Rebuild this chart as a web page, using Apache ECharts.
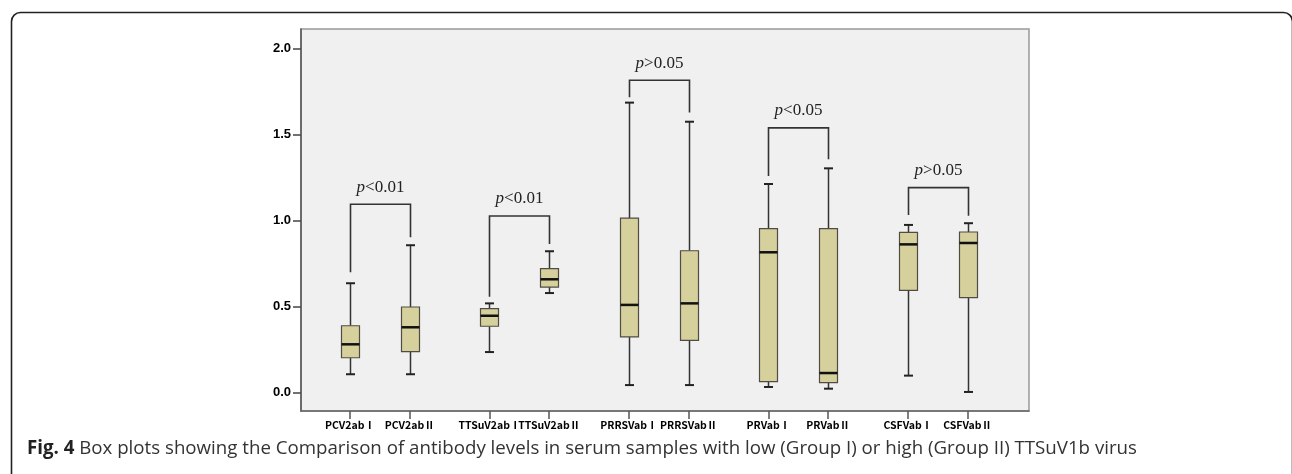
<!DOCTYPE html>
<html>
<head>
<meta charset="utf-8">
<script src="https://cdn.jsdelivr.net/npm/echarts@6/dist/echarts.min.js"></script>
<style>
html,body{margin:0;padding:0;background:#fff;}
#chart{width:1292px;height:474px;}
</style>
</head>
<body>
<div id="chart"></div>
<script>
// ---- Data ----
const categories = ['PCV2abⅠ','PCV2abⅡ','TTSuV2abⅠ','TTSuV2abⅡ','PRRSVabⅠ','PRRSVabⅡ','PRVabⅠ','PRVabⅡ','CSFVabⅠ','CSFVabⅡ'];
const whiskerMin = [0.105, 0.105, 0.234, 0.577, 0.042, 0.042, 0.031, 0.021, 0.097, 0.002];
const quartile1  = [0.201, 0.236, 0.384, 0.612, 0.322, 0.302, 0.062, 0.056, 0.593, 0.550];
const medians    = [0.279, 0.378, 0.445, 0.657, 0.508, 0.517, 0.814, 0.112, 0.860, 0.868];
const quartile3  = [0.387, 0.496, 0.486, 0.719, 1.012, 0.823, 0.951, 0.951, 0.930, 0.932];
const whiskerMax = [0.634, 0.855, 0.517, 0.820, 1.684, 1.573, 1.211, 1.302, 0.973, 0.983];
// significance brackets (one per pair of groups)
const pLabels       = ['<0.01', '<0.01', '>0.05', '<0.05', '>0.05'];
const bracketTop    = [1.093, 1.025, 1.814, 1.537, 1.190];
const bracketLeft   = [0.698, 0.556, 1.715, 1.258, 1.031];
const bracketRight  = [0.901, 0.862, 1.626, 1.355, 1.027];
const yTickValues   = [0, 0.5, 1.0, 1.5, 2.0];
const captionBold = 'Fig. 4';
const captionText = ' Box plots showing the Comparison of antibody levels in serum samples with low (Group I) or high (Group II) TTSuV1b virus';

// ---- Layout helpers (positions along x: pairs with a wider gap between pairs) ----
const positions = categories.map((c, i) => Math.floor(i / 2) * 7 + (i % 2) * 3);
const boxData = categories.map((c, i) => [positions[i], whiskerMin[i], quartile1[i], medians[i], quartile3[i], whiskerMax[i]]);
const bracketData = pLabels.map((p, g) => [positions[2 * g], positions[2 * g + 1], bracketLeft[g], bracketRight[g], bracketTop[g]]);

const chart = echarts.init(document.getElementById('chart'), null, {renderer: 'canvas'});

function renderBox(params, api) {
  const x = api.value(0);
  const pMin = api.coord([x, api.value(1)]);
  const pQ1 = api.coord([x, api.value(2)]);
  const pMed = api.coord([x, api.value(3)]);
  const pQ3 = api.coord([x, api.value(4)]);
  const pMax = api.coord([x, api.value(5)]);
  const cx = Math.round(pMin[0]) + 0.5;
  const hw = 9, cw = 4.5;
  const line = '#333';
  return {
    type: 'group',
    children: [
      {type: 'line', shape: {x1: cx, y1: pMin[1], x2: cx, y2: pQ1[1]}, style: {stroke: line, lineWidth: 1.5}},
      {type: 'line', shape: {x1: cx, y1: pQ3[1], x2: cx, y2: pMax[1]}, style: {stroke: line, lineWidth: 1.5}},
      {type: 'line', shape: {x1: cx - cw, y1: pMin[1], x2: cx + cw, y2: pMin[1]}, style: {stroke: '#222', lineWidth: 2}},
      {type: 'line', shape: {x1: cx - cw, y1: pMax[1], x2: cx + cw, y2: pMax[1]}, style: {stroke: '#222', lineWidth: 2}},
      {type: 'rect', shape: {x: cx - hw, y: pQ3[1], width: hw * 2, height: pQ1[1] - pQ3[1]}, style: {fill: '#d6d09c', stroke: '#4f4c44', lineWidth: 1.2}},
      {type: 'line', shape: {x1: cx - hw, y1: pMed[1], x2: cx + hw, y2: pMed[1]}, style: {stroke: '#111', lineWidth: 2.5}}
    ]
  };
}

function renderBracket(params, api) {
  const xl = api.value(0), xr = api.value(1);
  const pl = api.coord([xl, api.value(2)]);
  const pr = api.coord([xr, api.value(3)]);
  const ptl = api.coord([xl, api.value(4)]);
  const ptr = api.coord([xr, api.value(4)]);
  const xL = Math.round(pl[0]) + 0.5, xR = Math.round(pr[0]) + 0.5;
  return {
    type: 'group',
    children: [
      {type: 'polyline', shape: {points: [[xL, pl[1]], [xL, ptl[1]], [xR, ptr[1]], [xR, pr[1]]]}, style: {stroke: '#333', lineWidth: 1.6, fill: null}},
      {type: 'text', x: (xL + xR) / 2, y: ptl[1] - 17,
        style: {text: '{i|p}' + pLabels[params.dataIndex], align: 'center', verticalAlign: 'middle',
          fontFamily: 'Liberation Serif', fontSize: 17, fill: '#222',
          rich: {i: {fontStyle: 'italic', fontFamily: 'Liberation Serif', fontSize: 17, fill: '#222'}}}}
    ]
  };
}

const option = {
  animation: false,
  backgroundColor: '#fff',
  grid: {left: 301, top: 29, right: 263, bottom: 63, show: true, backgroundColor: '#f0f0f0', borderColor: '#999', borderWidth: 1.5},
  xAxis: {
    type: 'value', min: -2.46, max: 34.08,
    splitLine: {show: false},
    axisLine: {show: true, onZero: false, lineStyle: {color: '#666', width: 1.5}},
    axisTick: {show: true, length: 8, customValues: positions, lineStyle: {color: '#555', width: 1.5}},
    axisLabel: {show: true, customValues: positions, margin: 9, color: '#000', fontSize: 10.5, fontWeight: 'bold',
      fontFamily: 'Noto Sans CJK SC',
      formatter: v => { const i = positions.indexOf(Math.round(v)); return i >= 0 ? categories[i] : ''; }}
  },
  yAxis: {
    type: 'value', min: -0.1087, max: 2.112,
    splitLine: {show: false},
    axisLine: {show: true, onZero: false, lineStyle: {color: '#555', width: 1.5}},
    axisTick: {show: true, length: 8, customValues: yTickValues, lineStyle: {color: '#444', width: 1.5}},
    axisLabel: {show: true, customValues: yTickValues, margin: 10, color: '#000', fontSize: 13, fontWeight: 'bold',
      fontFamily: 'Liberation Sans', formatter: v => v.toFixed(1)}
  },
  series: [
    {type: 'custom', renderItem: renderBox, data: boxData, encode: {x: 0, y: [1, 2, 3, 4, 5]}, silent: true, clip: false},
    {type: 'custom', renderItem: renderBracket, data: bracketData, encode: {x: [0, 1], y: [2, 3, 4]}, silent: true, clip: false, z: 3}
  ],
  graphic: [
    {type: 'rect', left: 9, top: 10, shape: {width: 1281, height: 470, r: 9}, style: {fill: null, stroke: '#222', lineWidth: 1.6}, z: 100, silent: true},
    {type: 'text', left: 27, top: 439,
      style: {text: '{b|' + captionBold + '}{r|' + captionText + '}',
        rich: {
          b: {fontFamily: 'Open Sans', fontWeight: 'bold', fontSize: 18.7, fill: '#222'},
          r: {fontFamily: 'Open Sans', fontSize: 18.7, fill: '#333'}
        }}, z: 100}
  ]
};
chart.setOption(option);
</script>
</body>
</html>
